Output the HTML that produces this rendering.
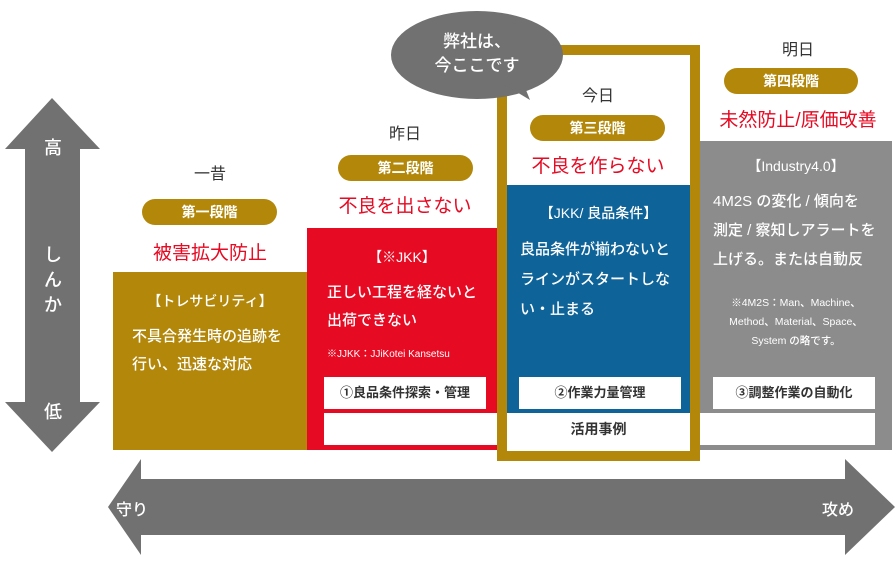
<!DOCTYPE html>
<html><head><meta charset="utf-8"><style>
body{margin:0;width:896px;height:563px;background:#fff;position:relative;overflow:hidden;font-family:"Liberation Sans","Noto Sans CJK JP",sans-serif}
.a{position:absolute}
.c{position:absolute;text-align:center;white-space:nowrap}
.pill{position:absolute;background:#b2870a;color:#fff;border-radius:14px;height:26px;line-height:26px;text-align:center;font-size:14px;font-weight:bold}
.red{color:#e60a23;font-size:19px}
.day{color:#333;font-size:16px}
.w{color:#fff;font-weight:500}
.wb{position:absolute;background:#fff;color:#333;text-align:center;font-size:13px;font-weight:bold;height:32px;line-height:32px}
</style></head><body>
<svg class="a" style="left:0;top:0" width="896" height="563">
<polygon points="52,98 100,149 80,149 80,402 100,402 52,452 5,402 25,402 25,149 5,149" fill="#717171"/>
<polygon points="108,507 141,459 141,479 845,479 845,459 895,507 845,555 845,535 141,535 141,555" fill="#717171"/>
</svg>
<div class="c w" style="left:38px;top:134px;width:30px;font-size:18px">高</div>
<div class="c w" style="left:38px;top:243px;width:30px;font-size:18px;white-space:normal;line-height:25px">し<br>ん<br>か</div>
<div class="c w" style="left:38px;top:398px;width:30px;font-size:18px">低</div>
<div class="c w" style="left:116px;top:496px;font-size:16px">守り</div>
<div class="c w" style="left:822px;top:496px;font-size:16px">攻め</div>

<!-- stage 1 -->
<div class="c day" style="left:140px;top:160px;width:140px">一昔</div>
<div class="pill" style="left:142px;top:199px;width:135px">第一段階</div>
<div class="c red" style="left:120px;top:238px;width:180px">被害拡大防止</div>
<div class="a" style="left:113px;top:272px;width:194px;height:178px;background:#b2870a"></div>
<div class="c w" style="left:113px;top:291px;width:194px;font-size:14px">【トレサビリティ】</div>
<div class="a w" style="left:132px;top:323px;font-size:15px;line-height:28px">不具合発生時の追跡を<br>行い、迅速な対応</div>

<!-- stage 2 -->
<div class="c day" style="left:335px;top:120px;width:140px">昨日</div>
<div class="pill" style="left:338px;top:155px;width:135px">第二段階</div>
<div class="c red" style="left:315px;top:191px;width:180px">不良を出さない</div>
<div class="a" style="left:307px;top:228px;width:190px;height:222px;background:#e60a23"></div>
<div class="c w" style="left:307px;top:247px;width:190px;font-size:14px">【※JKK】</div>
<div class="a w" style="left:327px;top:279px;font-size:15px;line-height:28px">正しい工程を経ないと<br>出荷できない</div>
<div class="a w" style="left:327px;top:345px;font-size:10px">※JJKK：JJiKotei Kansetsu</div>
<div class="wb" style="left:324px;top:377px;width:162px">①良品条件探索・管理</div>
<div class="wb" style="left:324px;top:413px;width:173px"></div>

<!-- stage 3 -->
<div class="a" style="left:497px;top:45px;width:183px;height:396px;border:10px solid #b2870a;background:#fff"></div>
<div class="c day" style="left:528px;top:82px;width:140px">今日</div>
<div class="pill" style="left:530px;top:115px;width:135px">第三段階</div>
<div class="c red" style="left:508px;top:151px;width:180px">不良を作らない</div>
<div class="a" style="left:507px;top:185px;width:183px;height:260px;background:#0e6399"></div>
<div class="c w" style="left:507px;top:203px;width:183px;font-size:14px">【JKK/ 良品条件】</div>
<div class="a w" style="left:520px;top:235px;font-size:15px;line-height:30px">良品条件が揃わないと<br>ラインがスタートしな<br>い・止まる</div>
<div class="wb" style="left:519px;top:377px;width:162px">②作業力量管理</div>
<div class="wb" style="left:507px;top:413px;width:183px;font-size:14px">活用事例</div>

<!-- stage 4 -->
<div class="c day" style="left:728px;top:36px;width:140px">明日</div>
<div class="pill" style="left:724px;top:68px;width:134px">第四段階</div>
<div class="c red" style="left:700px;top:105px;width:196px">未然防止/原価改善</div>
<div class="a" style="left:700px;top:141px;width:192px;height:309px;background:#8c8c8c"></div>
<div class="c w" style="left:700px;top:156px;width:192px;font-size:14px">【Industry4.0】</div>
<div class="a w" style="left:713px;top:187px;font-size:15px;line-height:29px">4M2S の変化 / 傾向を<br>測定 / 察知しアラートを<br>上げる。または自動反</div>
<div class="c w" style="left:700px;top:294px;width:192px;font-size:10.5px;line-height:19px">※4M2S：Man、Machine、<br>Method、Material、Space、<br>System の略です。</div>
<div class="wb" style="left:713px;top:377px;width:162px">③調整作業の自動化</div>
<div class="wb" style="left:700px;top:413px;width:175px"></div>

<svg class="a" style="left:0;top:0" width="896" height="120">
<ellipse cx="477" cy="55" rx="86" ry="44" fill="#717171"/>
<polygon points="505,85 530,100 522,80" fill="#717171"/>
</svg>
<div class="c w" style="left:400px;top:30px;width:154px;font-size:17px;line-height:24px">弊社は、<br>今ここです</div>
</body></html>
